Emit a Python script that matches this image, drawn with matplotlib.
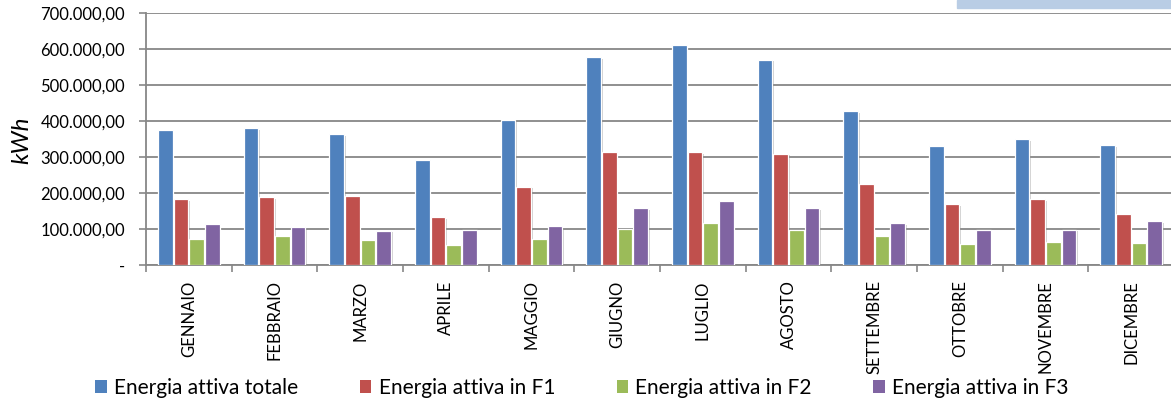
import matplotlib
matplotlib.use("Agg")
import matplotlib.pyplot as plt
import matplotlib.patheffects as pe
from matplotlib.ticker import FuncFormatter, FixedLocator
from matplotlib.patches import Rectangle, Patch
import numpy as np

plt.rcParams['font.family'] = ['Lato', 'DejaVu Sans']

mesi = ["GENNAIO", "FEBBRAIO", "MARZO", "APRILE", "MAGGIO", "GIUGNO",
        "LUGLIO", "AGOSTO", "SETTEMBRE", "OTTOBRE", "NOVEMBRE", "DICEMBRE"]

totale = [375000, 380000, 363000, 292000, 404000, 577000,
          612000, 570000, 427000, 331000, 350000, 332000]
f1 = [182500, 189000, 192000, 132000, 218000, 315000,
      313000, 309000, 224000, 169000, 183000, 143000]
f2 = [71000, 80000, 69000, 56000, 72000, 99000,
      117000, 96000, 81000, 58000, 64000, 61000]
f3 = [115000, 105000, 95000, 96000, 108000, 157000,
      177000, 157000, 117000, 97000, 98000, 122000]

serie = [
    ("Energia attiva totale", totale, "#4F81BD"),
    ("Energia attiva in F1", f1, "#C0504D"),
    ("Energia attiva in F2", f2, "#9BBB59"),
    ("Energia attiva in F3", f3, "#8064A2"),
]

grigio = "#878787"

fig = plt.figure(figsize=(11.71, 4.07), dpi=100)
ax = fig.add_axes([146 / 1171, 1 - 265 / 407, 1028 / 1171, 252 / 407])

x = np.arange(len(mesi))
passo = 0.183
larg = 0.168
ombra = [pe.SimplePatchShadow(offset=(1.2, -1.2), shadow_rgbFace="#777777", alpha=0.35),
         pe.Normal()]
for i, (nome, val, col) in enumerate(serie):
    bars = ax.bar(x + (i - 1.5) * passo, val, width=larg, color=col,
                  edgecolor="white", linewidth=0.9, zorder=3)
    for b in bars:
        b.set_path_effects(ombra)

ax.set_xlim(-0.5, len(mesi) - 0.5)
ax.set_ylim(0, 700000)
ax.set_yticks(np.arange(0, 700001, 100000))

def fmt_it(v, pos):
    if v == 0:
        return "-"
    s = f"{v:,.2f}"
    return s.replace(",", "X").replace(".", ",").replace("X", ".")

ax.yaxis.set_major_formatter(FuncFormatter(fmt_it))
ax.yaxis.grid(True, color=grigio, linewidth=1.3, zorder=0)
ax.set_axisbelow(True)

ax.set_xticks(x)
ax.set_xticklabels(mesi, rotation=90, fontsize=12)
ax.xaxis.set_minor_locator(FixedLocator(np.arange(-0.5, len(mesi), 1.0)))
ax.tick_params(axis="x", which="major", length=0, pad=11)
ax.tick_params(axis="x", which="minor", length=5, color=grigio, width=1.2)
ax.tick_params(axis="y", length=5, color=grigio, width=1.2, labelsize=12, pad=10)

for s in ["top", "right"]:
    ax.spines[s].set_visible(False)
for s in ["left", "bottom"]:
    ax.spines[s].set_color(grigio)
    ax.spines[s].set_linewidth(1.3)

fig.text(22 / 1171, 1 - 140 / 407, "kWh", rotation=90, style="italic",
         fontsize=17.5, ha="center", va="center")

maniglie = [Patch(facecolor=col, edgecolor="none", label=nome) for nome, _, col in serie]
fig.legend(handles=maniglie, loc="center", bbox_to_anchor=(0.497, 1 - 388 / 407), ncol=4,
           frameon=False, fontsize=15, handlelength=0.55, handleheight=0.55,
           handletextpad=0.35, columnspacing=2.95)

# riquadro tagliato in alto a destra
fig.patches.append(Rectangle((957 / 1171, 1 - 8 / 407), 214 / 1171, 8 / 407,
                             transform=fig.transFigure, color="#B9CDE5", zorder=5))

fig.savefig("out.png", dpi=100)
